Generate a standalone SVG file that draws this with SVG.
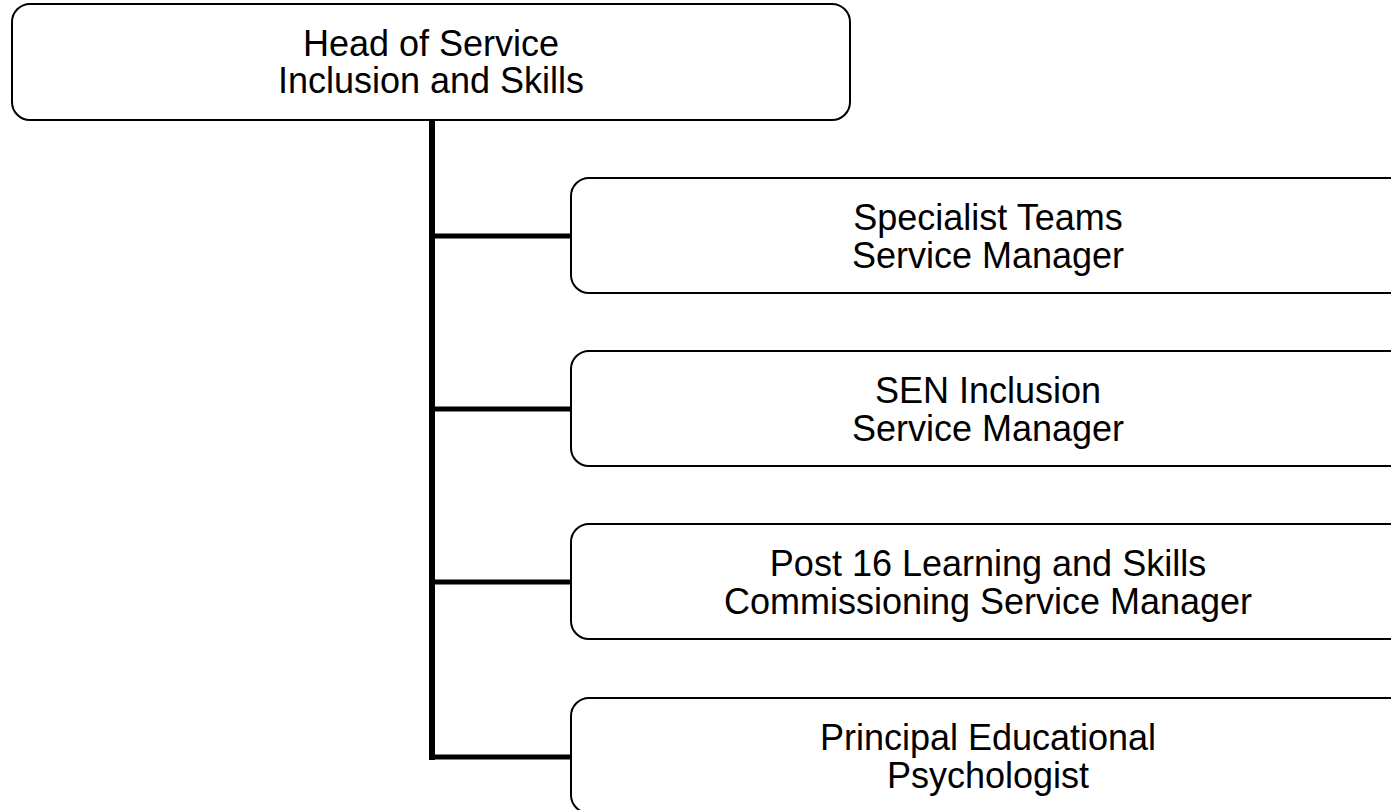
<svg xmlns="http://www.w3.org/2000/svg" width="1391" height="810" viewBox="0 0 1391 810">
<style>
.box{fill:#fff;stroke:#000;stroke-width:2}
.t{font-family:"Liberation Sans",Arial,sans-serif;font-size:36px;fill:#000;text-anchor:middle}
.c{stroke:#000;fill:none;stroke-linecap:butt}
</style>
<rect width="1391" height="810" fill="#fff"/>
<g id="connectors">
<path class="c" d="M432 120 V760" stroke-width="6"/>
<path class="c" d="M429 236 H572 M429 409 H572 M429 582 H572 M429 757 H572" stroke-width="5"/>
</g>
<g id="head">
<rect class="box" x="12" y="4" width="838" height="116" rx="18"/>
<text class="t" x="431" y="56">Head of Service</text>
<text class="t" x="431" y="93">Inclusion and Skills</text>
</g>
<g id="specialist">
<rect class="box" x="571" y="178" width="840" height="115" rx="18"/>
<text class="t" x="988" y="230">Specialist Teams</text>
<text class="t" x="988" y="268">Service Manager</text>
</g>
<g id="sen">
<rect class="box" x="571" y="351" width="840" height="115" rx="18"/>
<text class="t" x="988" y="403">SEN Inclusion</text>
<text class="t" x="988" y="441">Service Manager</text>
</g>
<g id="post16">
<rect class="box" x="571" y="524" width="840" height="115" rx="18"/>
<text class="t" x="988" y="576">Post 16 Learning and Skills</text>
<text class="t" x="988" y="614">Commissioning Service Manager</text>
</g>
<g id="psych">
<rect class="box" x="571" y="698" width="840" height="115" rx="18"/>
<text class="t" x="988" y="750">Principal Educational</text>
<text class="t" x="988" y="788">Psychologist</text>
</g>
</svg>
